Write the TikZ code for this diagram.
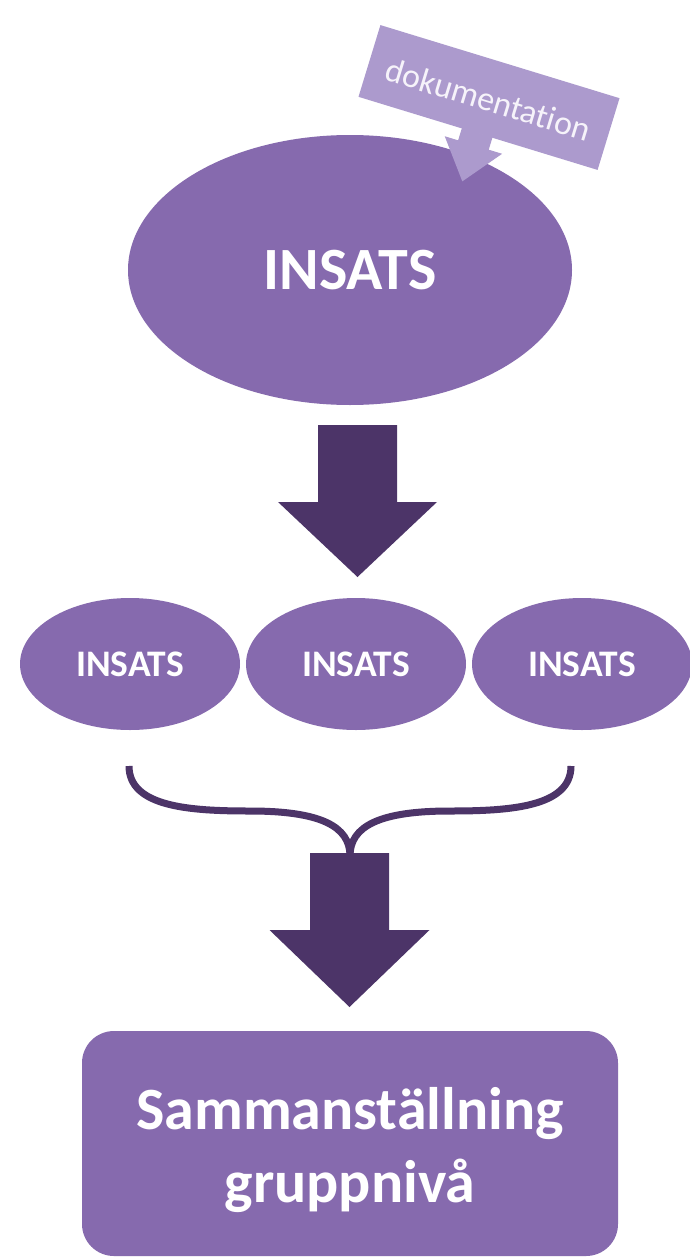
\documentclass[tikz,border=0pt]{standalone}
\usepackage{fontspec}
\setmainfont{Carlito}[Ligatures=NoCommon]
\usetikzlibrary{shapes.geometric}
\definecolor{purp}{RGB}{134,106,174}
\definecolor{lightpurp}{RGB}{172,154,205}
\definecolor{darkpurp}{RGB}{76,52,104}
\definecolor{paletext}{RGB}{246,243,250}
\tikzset{
  bigell/.style={ellipse, fill=purp, minimum width=444pt, minimum height=270pt, inner sep=0pt, text=white, font=\bfseries\fontsize{60}{62}\selectfont},
  smallell/.style={ellipse, fill=purp, minimum width=220pt, minimum height=132pt, inner sep=0pt, text=white, font=\bfseries\fontsize{37.5}{39}\selectfont},
  sumbox/.style={rectangle, rounded corners=32pt, fill=purp, minimum width=536pt, minimum height=225pt, inner sep=0pt},
  sumtext/.style={text=white, align=center, inner sep=0pt, font=\bfseries\fontsize{60}{73}\selectfont},
  fatarrow/.style={fill=darkpurp},
  bracestroke/.style={draw=darkpurp, line width=7pt},
  calloutbox/.style={fill=lightpurp},
  callouttext/.style={text=paletext, inner sep=0pt, font=\fontsize{34}{36}\selectfont}
}
\begin{document}
\begin{tikzpicture}[x=1pt,y=-1pt]
\useasboundingbox[fill=white] (0,0) rectangle (690,1258);
% big ellipse
\node[bigell] (top) at (350,270) {INSATS};
% callout
\begin{scope}[shift={(489,97.5)}, rotate=-17]
  \fill[calloutbox] (-125,-37.5) rectangle (125,37.5);
  \fill[calloutbox] (-17,37) -- (-17,50) -- (-31,50) -- (-1,88) -- (29,50) -- (15,50) -- (15,37) -- cycle;
  \node[callouttext, rotate=-17] (doc) at (0,2) {dokumentation};
\end{scope}
% arrow 1
\coordinate (a1) at (357.5,425);
\fill[fatarrow] ([xshift=-39.5pt]a1) -- ([xshift=39.5pt]a1) -- ++(0,77) -- ++(40,0) -- ([yshift=-152pt]a1) -- ++(-79.5,-75) -- ++(40,0) -- cycle;
% small ellipses
\node[smallell] (e1) at (130,664) {INSATS};
\node[smallell] (e2) at (356,664) {INSATS};
\node[smallell] (e3) at (582,664) {INSATS};
% brace
\coordinate (bl) at (129,766);
\coordinate (br) at (571,766);
\coordinate (bm) at (350,856);
\draw[bracestroke] (bl) .. controls (129,807) and (190,811) .. (250,811) .. controls (320,811) and (350,826) .. (bm);
\draw[bracestroke] (br) .. controls (571,807) and (510,811) .. (450,811) .. controls (380,811) and (350,826) .. (bm);
% arrow 2
\coordinate (a2) at (349.5,853);
\fill[fatarrow] ([xshift=-39.5pt]a2) -- ([xshift=39.5pt]a2) -- ++(0,77) -- ++(40.5,0) -- ([yshift=-154pt]a2) -- ++(-80,-77) -- ++(40.5,0) -- cycle;
% bottom box
\node[sumbox] (sum) at (350,1143.5) {};
\node[sumtext] (sumlabel) at (350,1150) {Sammanställning\\gruppnivå};
\end{tikzpicture}
\end{document}
